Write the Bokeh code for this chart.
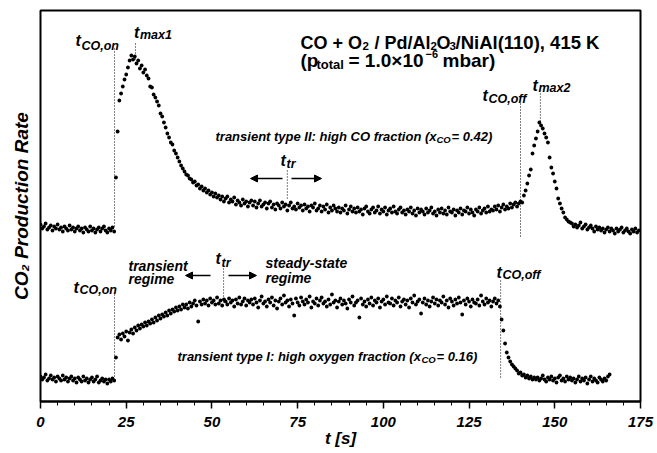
import math
import numpy as np
from bokeh.plotting import figure
from bokeh.models import (Label, Arrow, NormalHead, Range1d, SingleIntervalTicker,
                          LinearAxis, FixedTicker)
from bokeh.embed import file_html
from bokeh.resources import INLINE

# ---------------- data (arbitrary rate units) ----------------
T_STEP = 0.5  # s between samples

# transient type II: high CO fraction (x_CO = 0.42), samples from t = 0 s
TYPE2_RATE = [
    177, 173, 175, 178, 172, 174, 176, 171, 175, 173,
    177, 172, 174, 170, 175, 173, 171, 176, 172, 174,
    170, 173, 175, 171, 173, 169, 174, 172, 170, 175,
    171, 173, 169, 172, 174, 170, 173, 175, 171, 169,
    173, 171, 174, 170,
    224, 270, 301, 308, 315, 322, 327, 334, 341, 346,
    342, 345, 338, 341, 333, 336, 329, 332, 326, 323,
    315, 314, 307, 304, 300, 296, 288, 285, 279, 274,
    268, 264, 259, 257, 251, 248, 244, 240, 236, 233,
    230, 227, 226, 223, 222, 219, 220, 216, 217, 213,
    215, 211, 213, 209, 211, 207, 209, 205, 208, 204,
    206, 202, 205, 200, 203, 205, 199, 202, 200, 204,
    197, 201, 199, 196, 202, 198, 200, 195, 199, 201,
    196, 200, 194, 198, 201, 195, 197, 199, 193, 198,
    200, 194, 197, 192, 198, 196, 193, 199, 195, 197,
    191, 196, 199, 193, 195, 192, 198, 194, 196, 191,
    197, 193, 195, 190, 196, 194, 198, 191, 193, 196,
    190, 195, 192, 197, 189, 194, 191, 196, 193, 190,
    194, 189, 193, 191, 196, 188, 192, 195, 190, 193,
    189, 194, 190, 192, 187, 193, 195, 190, 188, 192,
    194, 189, 191, 195, 188, 192, 190, 194, 187, 191,
    193, 189, 195, 190, 188, 192, 194, 189, 191, 187,
    192, 190, 194, 188, 191, 186, 193, 189, 192, 190,
    187, 193, 189, 191, 194, 188, 190, 186, 192, 189,
    193, 188, 191, 187, 194, 190, 189, 192, 186, 191,
    189, 193, 187, 191, 190, 194, 188, 192, 189, 186,
    192, 190, 194, 188, 191, 193, 189, 195, 190, 192,
    191, 195, 192, 196, 190, 194, 197, 192, 195, 193,
    198, 194, 197, 199, 195, 198,
    200, 199, 206, 211, 218, 226, 232, 248, 256, 263,
    270, 279, 276, 273, 268, 264, 259, 244, 234, 228,
    220, 213, 203, 198, 193, 189, 184, 182, 180, 179,
    178, 175, 177, 174, 176, 179, 173, 175, 177, 172,
    174, 176, 173, 170, 175, 172, 174, 171, 173, 169,
    172, 174, 170, 173, 171, 168, 173, 170, 172, 174,
    169, 171, 173, 170, 168, 172, 170, 173, 169, 171,
]

# transient type I: high oxygen fraction (x_CO = 0.16), samples from t = 0 s
TYPE1_RATE = [
    25, 22, 24, 27, 21, 23, 26, 22, 24, 20,
    25, 23, 21, 26, 22, 24, 20, 23, 25, 21,
    23, 19, 24, 22, 20, 25, 21, 23, 19, 22,
    24, 20, 22, 25, 19, 21, 23, 20, 22, 18,
    22, 20, 23, 21,
    44, 64, 67, 62, 68, 65, 70, 61, 69, 72,
    68, 74, 71, 76, 73, 77, 75, 79, 76, 80,
    78, 82, 79, 84, 81, 86, 83, 87, 85, 89,
    86, 91, 88, 92, 90, 94, 91, 95, 92, 97,
    94, 97, 93, 99, 95, 98, 101, 96, 80, 100,
    97, 102, 98, 101, 96, 103, 99, 101, 97, 104,
    98, 101, 96, 102, 100, 97, 103, 99, 101, 95,
    102, 98, 104, 97, 100, 103, 96, 101, 99, 102,
    97, 103, 99, 94, 101, 105, 98, 100, 95, 102,
    99, 104, 96, 101, 93, 100, 103, 97, 106, 99,
    101, 95, 102, 98, 86, 103, 99, 96, 104, 100,
    97, 102, 99, 105, 94, 100, 98, 103, 96, 101,
    104, 98, 100, 95, 102, 97, 107, 99, 101, 94,
    100, 103, 97, 101, 98, 93, 102, 99, 105, 96,
    99, 101, 84, 103, 97, 100, 95, 102, 98, 104,
    96, 101, 99, 103, 94, 100, 102, 97, 105, 99,
    98, 103, 96, 101, 99, 104, 95, 100, 102, 97,
    101, 94, 103, 99, 106, 97, 100, 102, 88, 99,
    103, 97, 101, 95, 100, 104, 98, 102, 96, 101,
    99, 105, 97, 101, 94, 103, 100, 96, 102, 98,
    104, 99, 87, 101, 97, 103, 100, 95, 102, 99,
    98, 102, 96, 106, 100, 97, 103, 99, 101, 95,
    100, 103, 98, 101,
    95, 82, 71, 58, 49, 44, 40, 37, 35, 33,
    31, 28, 29, 26, 27, 24, 26, 23, 25, 22,
    24, 22,
    24, 21, 23, 26, 22, 20, 24, 22, 25, 21,
    23, 19, 24, 26, 21, 23, 20, 25, 22, 24,
    21, 23, 19, 22, 25, 20, 23, 21, 24, 18,
    22, 25, 20, 23, 21, 19, 24, 22, 20, 23,
    21, 25, 27,
]

X_TICK_INTERVAL = 25
X_LABEL = "t [s]"
Y_LABEL = "CO\u2082 Production Rate"

# characteristic times [s]
T_ON_II, T_MAX1, T_TR_II, T_OFF_II, T_MAX2 = 21.6, 27.7, 72.0, 140.0, 145.8
T_ON_I, T_TR_I, T_OFF_I = 21.6, 53.4, 134.2

# ---------------- figure ----------------
FONT = "Liberation Sans"
FW = 600  # frame width in px
p = figure(width=657, height=453, output_backend="svg", toolbar_location=None,
           title=None,
           x_range=Range1d(0, 175), y_range=Range1d(0, 391),
           min_border_left=40, min_border_right=17, min_border_top=10, min_border_bottom=52,
           y_axis_location=None)
p.xgrid.visible = False
p.ygrid.visible = False
p.outline_line_color = "black"
p.outline_line_width = 2
p.background_fill_color = "white"
p.border_fill_color = "white"

ax = p.xaxis[0]
ax.ticker = SingleIntervalTicker(interval=X_TICK_INTERVAL, num_minor_ticks=5)
ax.axis_line_width = 2
ax.axis_line_color = "black"
ax.major_tick_in = 0
ax.major_tick_out = 7
ax.minor_tick_in = 0
ax.minor_tick_out = 4
ax.major_tick_line_width = 1.5
ax.minor_tick_line_width = 1
ax.major_tick_line_color = "black"
ax.minor_tick_line_color = "black"
ax.major_label_text_font = FONT
ax.major_label_text_font_style = "bold italic"
ax.major_label_text_font_size = "15px"
ax.major_label_text_color = "black"
ax.major_label_standoff = 8
ax.axis_label = X_LABEL
ax.axis_label_text_font = FONT
ax.axis_label_text_font_style = "bold italic"
ax.axis_label_text_font_size = "17px"
ax.axis_label_text_color = "black"
ax.axis_label_standoff = -1

yax = LinearAxis(ticker=FixedTicker(ticks=[]), axis_line_color=None,
                 major_tick_out=0, major_tick_in=0, minor_tick_out=0, minor_tick_in=0,
                 major_label_standoff=0,
                 axis_label=Y_LABEL, axis_label_text_font=FONT,
                 axis_label_text_font_style="bold italic", axis_label_text_font_size="19px",
                 axis_label_text_color="black", axis_label_standoff=9)
p.add_layout(yax, "left")

# data points
t2 = np.arange(len(TYPE2_RATE)) * T_STEP
t1 = np.arange(len(TYPE1_RATE)) * T_STEP
p.scatter(t2, TYPE2_RATE, size=3.8, fill_color="black", line_color=None)
p.scatter(t1, TYPE1_RATE, size=3.8, fill_color="black", line_color=None)


def X(px):
    return (px - 40) * 175 / FW


def Y(py):
    return 401 - py


# dotted markers (time, top px, bottom px)
markers = [(T_ON_II, 48, 228), (T_MAX1, 43, 60), (T_TR_II, 170, 200),
           (T_OFF_II, 103, 237), (T_MAX2, 93, 122),
           (T_ON_I, 294, 378), (T_TR_I, 265, 302), (T_OFF_I, 280, 377)]
p.segment(x0=[m[0] for m in markers], y0=[Y(m[1]) for m in markers],
          x1=[m[0] for m in markers], y1=[Y(m[2]) for m in markers],
          line_color="black", line_width=1, line_dash="1 2")


def text(px, py, s, size, style="bold italic", **kw):
    p.add_layout(Label(x=X(px), y=Y(py), text=s, text_font=FONT,
                       text_font_size=f"{size}px", text_font_style=style,
                       text_color="black", text_baseline="alphabetic",
                       text_align="left", **kw))


def tlabel(px, base, sub, sub_base):
    text(px, base, "t", 16)
    text(px + 6, sub_base, sub, 12.5)


tlabel(75, 40, "CO,on", 45)
tlabel(133.5, 32, "max1", 34)
tlabel(280, 160, "tr", 163)
tlabel(482, 95, "CO,off", 98)
tlabel(532, 85, "max2", 87)
tlabel(73, 287, "CO,on", 289)
tlabel(215, 258, "tr", 262)
tlabel(496, 272, "CO,off", 274)

# title, line 1 (pieces with sub-scripts)
text(300, 42, "CO + O", 18, "bold")
text(362, 45, "2", 11.5, "bold")
text(374, 42, "/ Pd/Al", 18, "bold")
text(430, 45, "2", 11.5, "bold")
text(436, 42, "O", 18, "bold")
text(449, 45, "3", 11.5, "bold")
text(455, 42, "/NiAl(110), 415 K", 18.5, "bold")
# title, line 2
text(300, 60, "(p", 19, "bold")
text(316, 64, "total", 13, "bold")
text(348, 60, "= 1.0\u00d710", 19, "bold")
text(425, 53.5, "\u22126", 11, "bold")
text(442, 60, "mbar)", 19, "bold")

# series captions
text(215, 136, "transient type II: high CO fraction (x", 13)
text(436, 139, "CO", 9.5)
text(451, 136, "= 0.42)", 13)
text(177, 356, "transient type I: high oxygen fraction (x", 13)
text(421, 359, "CO", 9.5)
text(436, 356, "= 0.16)", 13)

# regimes
text(128, 265, "transient", 14)
text(128, 278, "regime", 14)
text(265, 262, "steady-state", 14)
text(265, 277, "regime", 14)

# arrows
for (xs, ys, xe, ye) in [(210, 275, 185, 275), (228, 275, 256, 275),
                         (282, 178, 250, 178), (291, 178, 321, 178)]:
    p.add_layout(Arrow(x_start=X(xs), y_start=Y(ys), x_end=X(xe), y_end=Y(ye),
                       line_color="black", line_width=1.5,
                       end=NormalHead(size=7, fill_color="black", line_color="black", line_width=1)))

open("out.html", "w").write(file_html(p, INLINE))
